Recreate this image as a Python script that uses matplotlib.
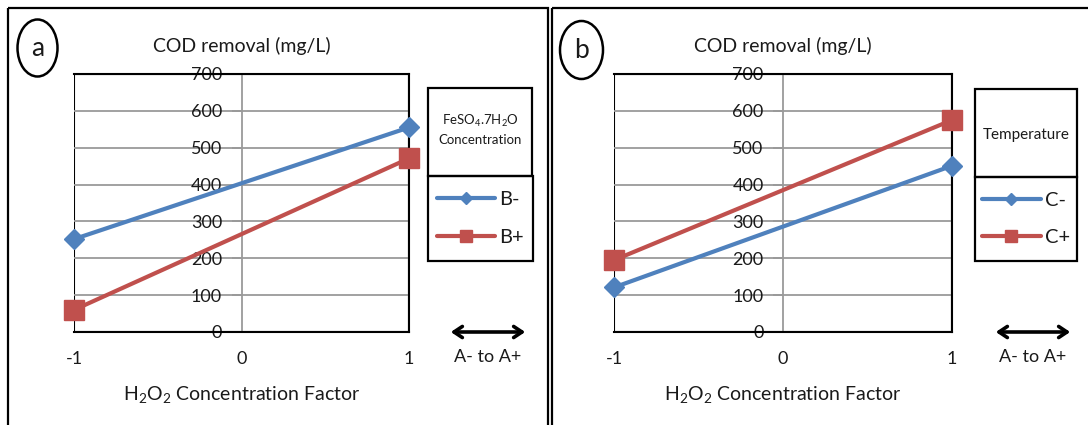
import matplotlib
matplotlib.use("Agg")
import matplotlib.pyplot as plt
from matplotlib.patches import Rectangle, Ellipse, FancyArrowPatch
from matplotlib.transforms import Affine2D

plt.rcParams['font.family'] = ['Lato', 'DejaVu Sans']
plt.rcParams['mathtext.fontset'] = 'custom'
plt.rcParams['mathtext.rm'] = 'Lato'
plt.rcParams['mathtext.default'] = 'rm'
plt.rcParams['axes.unicode_minus'] = False

# data
x_levels = [-1, 1]
x_ticks = [-1, 0, 1]
y_ticks = [0, 100, 200, 300, 400, 500, 600, 700]

b_minus = [252, 555]
b_plus = [60, 471]
c_minus = [121, 451]
c_plus = [195, 575]

panel_letters = ['a', 'b']
legend_titles = ['FeSO$_4$.7H$_2$O\nConcentration', 'Temperature']
legend_labels = [['B-', 'B+'], ['C-', 'C+']]
series = [[b_minus, b_plus], [c_minus, c_plus]]

blue = '#4F81BD'
red = '#C0504D'
grid_col = '#9a9a9a'
txt_col = '#1a1a1a'

W, H = 1088, 425
fig = plt.figure(figsize=(W / 100, H / 100), dpi=100)
pix = Affine2D().scale(1 / W, -1 / H).translate(0, 1) + fig.transFigure


def box(x0, y0, x1, y1):
    return [x0 / W, 1 - y1 / H, (x1 - x0) / W, (y1 - y0) / H]


# layout of each panel in pixels
panels = [
    dict(frame=(8, 8, 548), ax=(74, 74, 409, 332), circ=(37.5, 48, 40, 57),
         ttl=(428, 88, 532, 176), ent=(428, 176, 533, 261), arrow=(448, 528),
         ttl_size=9.5, ttl_dy=-3),
    dict(frame=(552, 8, 1100), ax=(614, 74, 952, 332), circ=(581.5, 50, 43, 58),
         ttl=(975, 89, 1077, 177), ent=(975, 177, 1077, 261), arrow=(993, 1073),
         ttl_size=11, ttl_dy=2),
]

for i, p in enumerate(panels):
    fx0, fy0, fx1 = p['frame']
    fig.patches.append(Rectangle((fx0, fy0), fx1 - fx0, 500, transform=pix,
                                 fill=False, edgecolor='black', lw=1.6))

    ax = fig.add_axes(box(*p['ax']))
    lo, hi = series[i]
    ax.plot(x_levels, lo, color=blue, lw=3, marker='D', markersize=10,
            label=legend_labels[i][0], solid_capstyle='round', clip_on=False,
            zorder=3)
    ax.plot(x_levels, hi, color=red, lw=3, marker='s', markersize=14,
            label=legend_labels[i][1], solid_capstyle='round', clip_on=False,
            zorder=3)
    ax.set_xlim(-1, 1)
    ax.set_ylim(0, 700)
    ax.set_xticks(x_ticks)
    ax.set_yticks(y_ticks)
    ax.grid(axis='y', color=grid_col, lw=1.3)
    ax.set_axisbelow(True)
    for s in ['top', 'right', 'bottom']:
        ax.spines[s].set_color('black')
        ax.spines[s].set_linewidth(1.5)
    ax.spines['left'].set_position(('data', 0))
    ax.spines['left'].set_color(grid_col)
    ax.spines['left'].set_linewidth(1.3)
    ax.add_patch(Rectangle((0, 0), 1, 1, transform=ax.transAxes, fill=False,
                           edgecolor='black', lw=1.5, zorder=0.5))
    ax.tick_params(axis='y', direction='out', length=7, color=grid_col,
                   width=1.3, pad=7, labelsize=13, labelcolor=txt_col)
    ax.tick_params(axis='x', length=0, pad=14, labelsize=13, labelcolor=txt_col)
    ax.set_title('COD removal (mg/L)', fontsize=14, pad=16, color=txt_col)
    ax.set_xlabel('H$_2$O$_2$ Concentration Factor', fontsize=14, labelpad=12,
                  color=txt_col)

    # legend boxes
    tx0, ty0, tx1, ty1 = p['ttl']
    fig.patches.append(Rectangle((tx0, ty0), tx1 - tx0, ty1 - ty0, transform=pix,
                                 fill=False, edgecolor='black', lw=1.6))
    fig.text((tx0 + tx1) / 2 / W, 1 - ((ty0 + ty1) / 2 + p['ttl_dy']) / H,
             legend_titles[i], ha='center', va='center', fontsize=p['ttl_size'],
             linespacing=1.5, color=txt_col)
    ex0, ey0, ex1, ey1 = p['ent']
    fig.patches.append(Rectangle((ex0, ey0), ex1 - ex0, ey1 - ey0, transform=pix,
                                 fill=False, edgecolor='black', lw=1.6))
    ax.legend(loc='center', bbox_to_anchor=box(*p['ent']),
              bbox_transform=fig.transFigure, frameon=False, fontsize=14.5,
              handlelength=2.9, handletextpad=0.2, labelspacing=1.0,
              markerscale=0.6, labelcolor=txt_col)

    # arrow and caption
    a0, a1 = p['arrow']
    fig.patches.append(FancyArrowPatch((a0, 332), (a1, 332), transform=pix,
                                       arrowstyle='<->,head_length=6,head_width=4',
                                       lw=2.6, color='black'))
    fig.text((a0 + a1) / 2 / W, 1 - 357 / H, 'A- to A+', ha='center', va='center',
             fontsize=13, color=txt_col)

    # panel letter
    cx, cy, cw, chh = p['circ']
    fig.patches.append(Ellipse((cx, cy), cw, chh, transform=pix, fill=False,
                               edgecolor='black', lw=1.8))
    fig.text(cx / W, 1 - (cy + 1) / H, panel_letters[i], ha='center', va='center',
             fontsize=19, color=txt_col)

fig.savefig('out.png', dpi=100)
